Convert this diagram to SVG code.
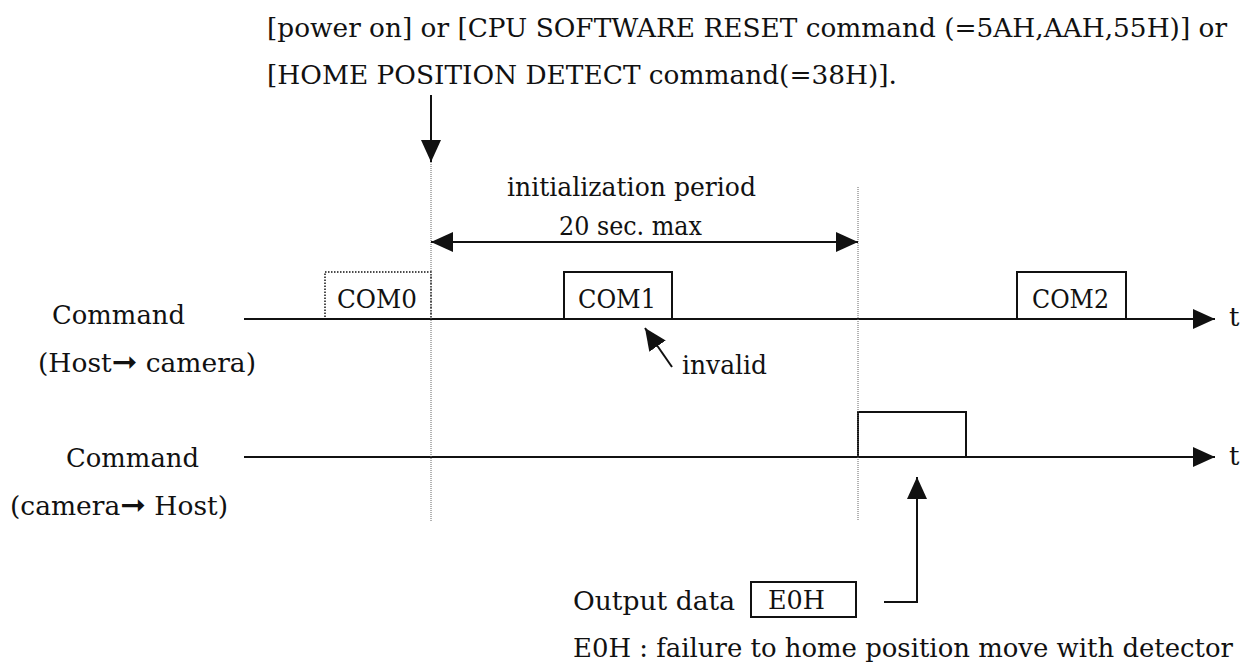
<svg xmlns="http://www.w3.org/2000/svg" width="1252" height="666" viewBox="0 0 1252 666">
  <style>
    text { font-family: "DejaVu Serif", "Liberation Serif", serif; font-size: 26px; fill: #111; }
    .axis { stroke: #111; stroke-width: 2; fill: none; }
    .conn { stroke: #111; stroke-width: 2; fill: none; }
    .guide { stroke: #666; stroke-width: 1; stroke-dasharray: 1 1; fill: none; }
    .box { stroke: #111; stroke-width: 2; fill: #fff; }
    .box-dotted { stroke: #111; stroke-width: 1.5; stroke-dasharray: 1.5 1.5; fill: none; }
    .glyph { font-family: "DejaVu Sans", sans-serif; font-size: 30px; }
  </style>
  <defs>
    <marker id="head" markerUnits="userSpaceOnUse" markerWidth="22" markerHeight="20" refX="22" refY="10" orient="auto">
      <path d="M0,0 L22,10 L0,20 z" fill="#111"/>
    </marker>
    <marker id="head-start" markerUnits="userSpaceOnUse" markerWidth="22" markerHeight="20" refX="0" refY="10" orient="auto">
      <path d="M22,0 L0,10 L22,20 z" fill="#111"/>
    </marker>
  </defs>

  <!-- trigger condition -->
  <g id="trigger">
    <text x="267" y="37" textLength="960" lengthAdjust="spacingAndGlyphs">[power on] or [CPU SOFTWARE RESET command (=5AH,AAH,55H)] or</text>
    <text x="267" y="84" textLength="630" lengthAdjust="spacingAndGlyphs">[HOME POSITION DETECT command(=38H)].</text>
  </g>

  <!-- initialization period label -->
  <g id="init-period">
    <text x="507" y="196" textLength="249" lengthAdjust="spacingAndGlyphs">initialization period</text>
    <text x="559" y="235" textLength="143" lengthAdjust="spacingAndGlyphs">20 sec. max</text>
  </g>

  <!-- row labels -->
  <g id="row-host-to-camera">
    <text x="52" y="324" textLength="133" lengthAdjust="spacingAndGlyphs">Command</text>
    <text x="38" y="372" textLength="218" lengthAdjust="spacingAndGlyphs">(Host<tspan class="glyph">➞</tspan> camera)</text>
  </g>
  <g id="row-camera-to-host">
    <text x="66" y="467" textLength="133" lengthAdjust="spacingAndGlyphs">Command</text>
    <text x="10" y="515" textLength="218" lengthAdjust="spacingAndGlyphs">(camera<tspan class="glyph">➞</tspan> Host)</text>
  </g>

  <!-- time axes -->
  <g id="axis-1">
    <line class="axis" x1="244" y1="319" x2="1215" y2="319" marker-end="url(#head)"/>
    <text x="1229" y="326">t</text>
  </g>
  <g id="axis-2">
    <line class="axis" x1="244" y1="457" x2="1215" y2="457" marker-end="url(#head)"/>
    <text x="1229" y="465">t</text>
  </g>

  <!-- commands on the host to camera line -->
  <g id="com0">
    <rect class="box-dotted" x="325" y="272" width="106" height="47"/>
    <text x="337" y="308" textLength="80" lengthAdjust="spacingAndGlyphs">COM0</text>
  </g>
  <g id="com1">
    <rect class="box" x="564" y="272" width="108" height="47"/>
    <text x="578" y="308" textLength="78" lengthAdjust="spacingAndGlyphs">COM1</text>
  </g>
  <g id="com2">
    <rect class="box" x="1017" y="272" width="109" height="47"/>
    <text x="1032" y="308" textLength="77" lengthAdjust="spacingAndGlyphs">COM2</text>
  </g>
  <g id="invalid">
    <text x="682" y="374" textLength="85" lengthAdjust="spacingAndGlyphs">invalid</text>
  </g>

  <!-- reply on the camera to host line -->
  <g id="reply">
    <rect class="box" x="858" y="412" width="108" height="45"/>
  </g>

  <!-- output data legend -->
  <g id="output-data">
    <text x="573" y="610" textLength="162" lengthAdjust="spacingAndGlyphs">Output data</text>
    <rect class="box" x="751" y="582" width="105" height="35"/>
    <text x="768" y="609" textLength="57" lengthAdjust="spacingAndGlyphs">E0H</text>
    <text x="573" y="657" textLength="660" lengthAdjust="spacingAndGlyphs">E0H : failure to home position move with detector</text>
  </g>

  <!-- guides and connectors -->
  <g id="connectors">
    <line class="guide" x1="431" y1="162" x2="431" y2="521"/>
    <line class="guide" x1="858" y1="187" x2="858" y2="521"/>
    <line class="conn" x1="431" y1="95" x2="431" y2="162" marker-end="url(#head)"/>
    <line class="conn" x1="431" y1="242" x2="858" y2="242" marker-start="url(#head-start)" marker-end="url(#head)"/>
    <line class="conn" x1="672" y1="367" x2="645" y2="328" marker-end="url(#head)"/>
    <polyline class="conn" points="884,602 917,602 917,477" marker-end="url(#head)"/>
  </g>
</svg>
